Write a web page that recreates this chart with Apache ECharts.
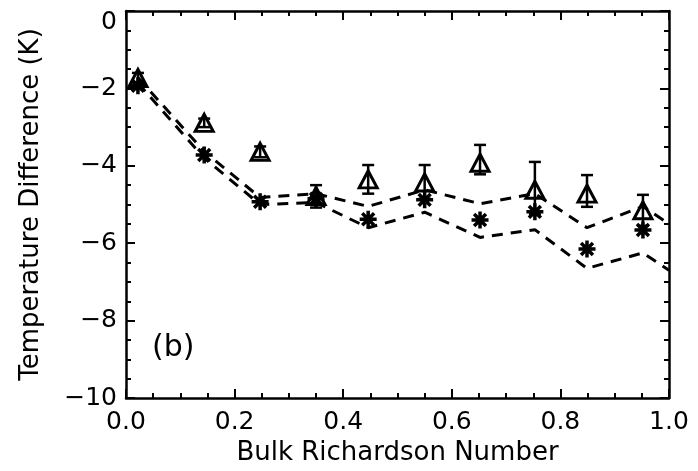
<!DOCTYPE html>
<html>
<head>
<meta charset="utf-8">
<script src="https://cdn.jsdelivr.net/npm/echarts@6/dist/echarts.min.js"></script>
<style>
  html, body { margin: 0; padding: 0; background: #fff; }
  #main { width: 698px; height: 471px; }
</style>
</head>
<body>
<div id="main"></div>
<script>
// bin centres of the bulk Richardson number
const riBins = [0.022, 0.144, 0.247, 0.35, 0.446, 0.55, 0.652, 0.753, 0.849, 0.952];
// triangles with error bars
const triMean = [-1.73, -2.89, -3.64, -4.78, -4.35, -4.43, -3.92, -4.62, -4.72, -5.15];
const triLow = [-1.85, -3.0, -3.78, -5.08, -4.72, -4.85, -4.22, -5.25, -5.06, -5.55];
const triHigh = [-1.6, -2.78, -3.5, -4.5, -3.98, -3.98, -3.46, -3.9, -4.24, -4.75];
// asterisks
const starMean = [-1.93, -3.72, -4.93, -4.85, -5.38, -4.88, -5.4, -5.19, -6.15, -5.66];
// dashed curves
const curveX = [0.022, 0.144, 0.247, 0.35, 0.446, 0.55, 0.652, 0.753, 0.849, 0.952, 1.0];
const upperY = [-1.72, -3.63, -4.82, -4.72, -5.05, -4.62, -4.98, -4.72, -5.6, -5.05, -5.5];
const lowerY = [-1.86, -3.8, -5.0, -4.95, -5.6, -5.2, -5.85, -5.65, -6.65, -6.25, -6.7];
// ticks
const xTicks = [0, 0.2, 0.4, 0.6, 0.8, 1.0];
const yTicks = [-10, -8, -6, -4, -2, 0];

const font = "DejaVu Sans";
const asterisk = "path://M10,0L10,20M0,10L20,10M3,3L17,17M3,17L17,3";

function pairs(xs, ys) {
  return xs.map((x, i) => [x, ys[i]]);
}

function boxAxis(extra) {
  return Object.assign({
    type: "value",
    axisLine: { show: true, onZero: false, lineStyle: { color: "#000", width: 2.5 } },
    axisTick: { show: true, inside: true, length: 9, lineStyle: { color: "#000", width: 2 } },
    minorTick: { show: true, splitNumber: 4, length: 5, lineStyle: { color: "#000", width: 2 } },
    splitLine: { show: false },
    axisLabel: { show: false }
  }, extra);
}

const xRange = { min: xTicks[0], max: xTicks[xTicks.length - 1], interval: 0.2 };
const yRange = { min: yTicks[0], max: yTicks[yTicks.length - 1], interval: 2 };

let options = {
  backgroundColor: "#fff",
  animation: false,
  grid: { left: 126, right: 29, top: 11, bottom: 73 },
  xAxis: [
    boxAxis(Object.assign({
      position: "bottom",
      name: "Bulk Richardson Number",
      nameLocation: "middle",
      nameGap: 27,
      nameTextStyle: { color: "#000", fontFamily: font, fontSize: 26 },
      axisLabel: {
        show: true, color: "#000", fontFamily: font, fontSize: 25, margin: 12,
        formatter: (v) => v.toFixed(1)
      }
    }, xRange)),
    boxAxis(Object.assign({ position: "top" }, xRange))
  ],
  yAxis: [
    boxAxis(Object.assign({
      position: "left",
      name: "Temperature Difference (K)",
      nameLocation: "middle",
      nameGap: 82,
      nameTextStyle: { color: "#000", fontFamily: font, fontSize: 26 },
      axisLabel: {
        show: true, color: "#000", fontFamily: font, fontSize: 25, margin: 9,
        // the top label sits a little lower in the original
        formatter: (v) => v === 0 ? "{top|0}" : String(v).replace("-", "\u2212"),
        rich: { top: { fontFamily: font, fontSize: 25, color: "#000", padding: [22, 0, 0, 0] } }
      }
    }, yRange)),
    boxAxis(Object.assign({ position: "right" }, yRange))
  ],
  graphic: [
    {
      type: "text",
      left: 152,
      top: 333,
      style: { text: "(b)", fill: "#000", font: "30px " + font }
    }
  ],
  series: [
    {
      name: "upper",
      type: "line",
      data: pairs(curveX, upperY),
      showSymbol: false,
      lineStyle: { color: "#000", width: 3, type: [11, 8] }
    },
    {
      name: "lower",
      type: "line",
      data: pairs(curveX, lowerY),
      showSymbol: false,
      lineStyle: { color: "#000", width: 3, type: [11, 8] }
    },
    {
      name: "error bars",
      type: "custom",
      data: riBins.map((x, i) => [x, triLow[i], triHigh[i]]),
      renderItem: function (params, api) {
        const top = api.coord([api.value(0), api.value(2)]);
        const bot = api.coord([api.value(0), api.value(1)]);
        const st = { stroke: "#000", lineWidth: 2.5 };
        const cap = 6;
        return {
          type: "group",
          children: [
            { type: "line", shape: { x1: top[0], y1: top[1], x2: bot[0], y2: bot[1] }, style: st },
            { type: "line", shape: { x1: top[0] - cap, y1: top[1], x2: top[0] + cap, y2: top[1] }, style: st },
            { type: "line", shape: { x1: bot[0] - cap, y1: bot[1], x2: bot[0] + cap, y2: bot[1] }, style: st }
          ]
        };
      },
      z: 3
    },
    {
      name: "triangles",
      type: "scatter",
      data: pairs(riBins, triMean),
      symbol: "triangle",
      symbolSize: [18, 17],
      itemStyle: { color: "rgba(255,255,255,0)", borderColor: "#000", borderWidth: 3, opacity: 1 },
      z: 4
    },
    {
      name: "asterisks",
      type: "scatter",
      data: pairs(riBins, starMean),
      symbol: asterisk,
      symbolSize: 17,
      itemStyle: { color: "#000", borderColor: "#000", borderWidth: 3.5, opacity: 1 },
      z: 4
    }
  ]
};

let myChart = echarts.init(document.getElementById("main"));
myChart.setOption(options);
</script>
</body>
</html>
